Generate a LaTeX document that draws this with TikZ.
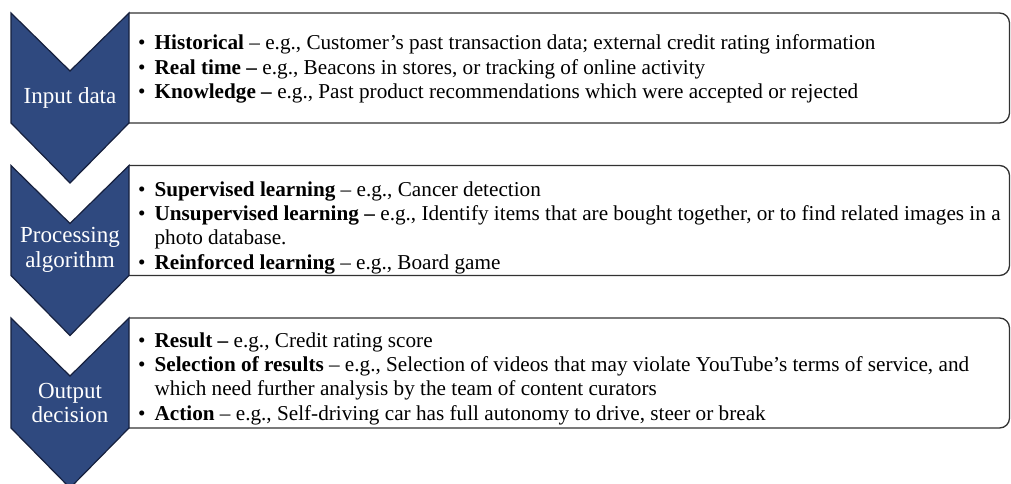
\documentclass[tikz,border=0pt]{standalone}
\usepackage{fontspec}
\setmainfont{Liberation Serif}

\definecolor{chevfill}{RGB}{47,73,127}
\definecolor{chevline}{RGB}{22,32,62}
\definecolor{boxline}{RGB}{50,50,50}

\tikzset{
  chevron/.style={fill=chevfill, draw=chevline, line width=1.2pt, line join=miter},
  stagebox/.style={draw=boxline, line width=1.3pt, rounded corners=10pt},
  stagelabel/.style={text=white, align=center, inner sep=0pt,
    font=\fontsize{23}{24.5}\selectfont},
  itemlist/.style={anchor=west, inner sep=0pt,
    font=\fontsize{21.2}{23.6}\selectfont}
}

\begin{document}
\begin{tikzpicture}[x=1pt, y=-1pt]
  \useasboundingbox (0,0) rectangle (1011,484);

  % boxes first, chevrons drawn on top of their left edges
  \foreach \y in {13,165.5,318} {
    \draw[stagebox] (129,\y) -- (1009.5,\y) -- (1009.5,\y+110) -- (129,\y+110);
    \draw[chevron] (11,\y) -- (70,\y+58) -- (129,\y) -- (129,\y+110)
      -- (70,\y+170) -- (11,\y+110) -- cycle;
  }

  % stage labels
  \node[stagelabel] (s1) at (70,97.5) {Input data};
  \node[stagelabel] (s2) at (70,250) {Processing\\algorithm};
  \node[stagelabel] (s3) at (70,403) {Output\\decision};

  % item lists
  \node[itemlist] (l1) at (138,69.5) {%
    \begin{tabular}{@{}l@{\hspace{9pt}}l@{}}
      • & \textbf{Historical} – e.g., Customer’s past transaction data; external credit rating information\\[1pt]
      • & \textbf{Real time –} e.g., Beacons in stores, or tracking of online activity\\[1pt]
      • & \textbf{Knowledge –} e.g., Past product recommendations which were accepted or rejected
    \end{tabular}};

  \node[itemlist] (l2) at (138,228) {%
    \begin{tabular}{@{}l@{\hspace{9pt}}l@{}}
      • & \textbf{Supervised learning} – e.g., Cancer detection\\[1pt]
      • & \textbf{Unsupervised learning –} e.g., Identify items that are bought together, or to find related images in a\\
        & photo database.\\[1pt]
      • & \textbf{Reinforced learning} – e.g., Board game
    \end{tabular}};

  \node[itemlist] (l3) at (138,379) {%
    \begin{tabular}{@{}l@{\hspace{9pt}}l@{}}
      • & \textbf{Result –} e.g., Credit rating score\\[1pt]
      • & \textbf{Selection of results} – e.g., Selection of videos that may violate YouTube’s terms of service, and\\
        & which need further analysis by the team of content curators\\[1pt]
      • & \textbf{Action} – e.g., Self-driving car has full autonomy to drive, steer or break
    \end{tabular}};
\end{tikzpicture}
\end{document}
